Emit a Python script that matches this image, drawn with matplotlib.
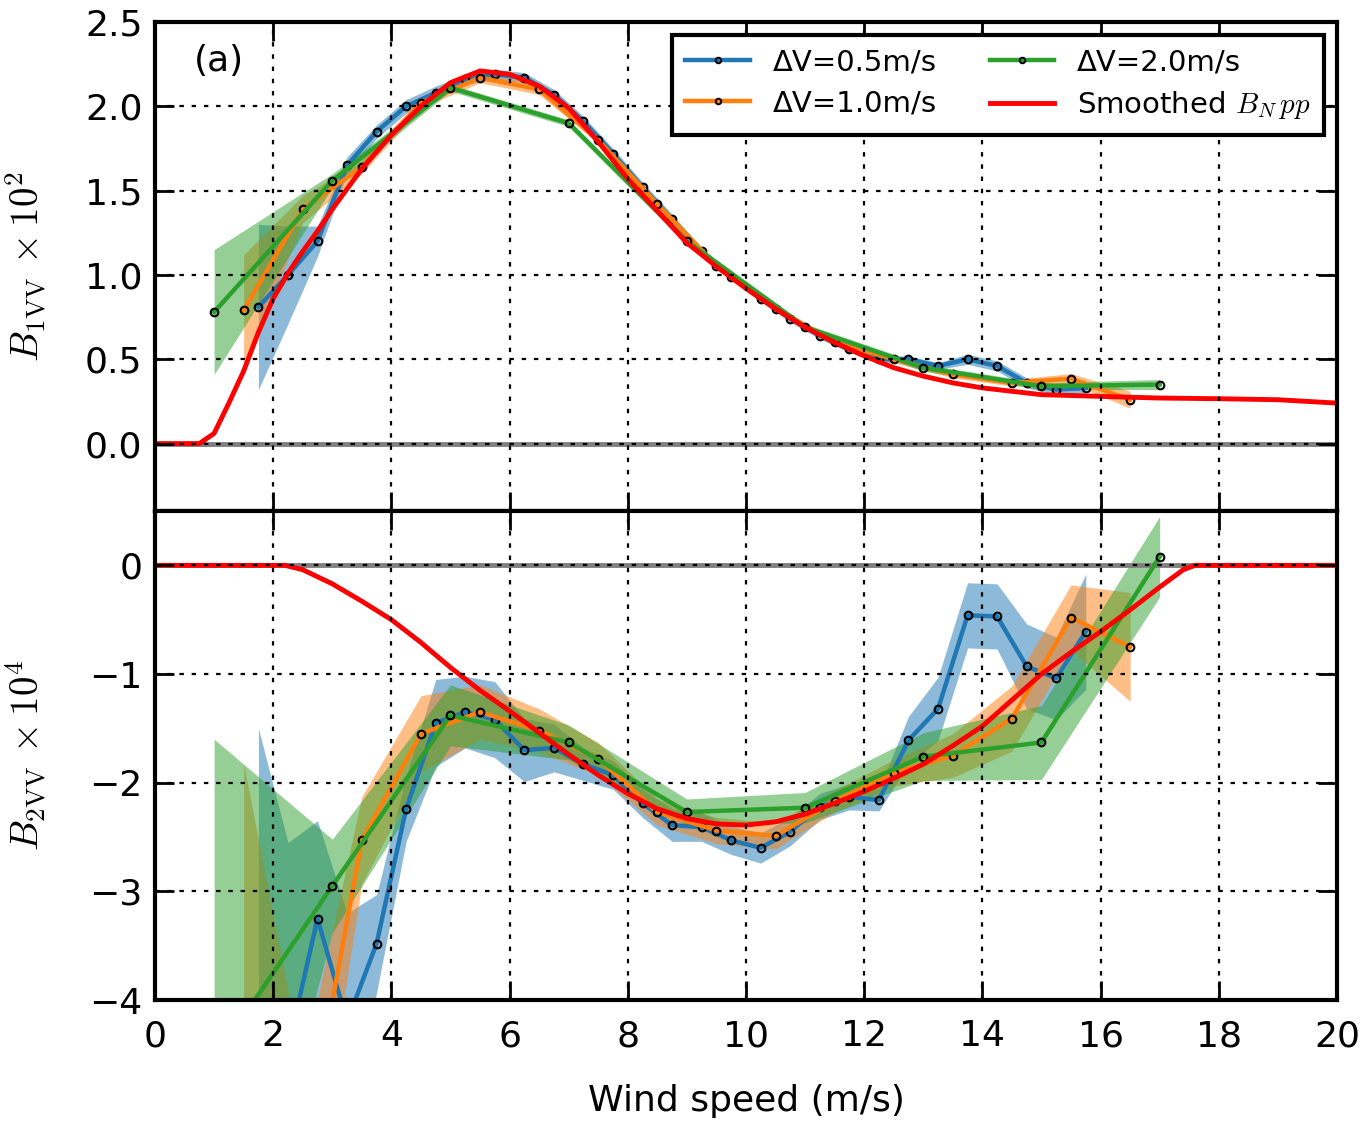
import matplotlib
matplotlib.use('Agg')
import matplotlib.pyplot as plt
from matplotlib.lines import Line2D
import numpy as np

plt.rcParams['mathtext.fontset'] = 'cm'
plt.rcParams['font.family'] = ['DejaVu Sans']

# ---------------- data ----------------
# dV = 0.5 m/s
x_05 = [1.75, 2.25, 2.75, 3.25, 3.75, 4.25, 4.75, 5.25, 5.75, 6.25, 6.75, 7.25, 7.75, 8.25,
        8.75, 9.25, 9.75, 10.25, 10.75, 11.25, 11.75, 12.25, 12.75, 13.25, 13.75, 14.25,
        14.75, 15.25, 15.75]
b1_05 = [0.81, 1.00, 1.20, 1.65, 1.85, 2.00, 2.08, 2.16, 2.19, 2.17, 2.07, 1.91, 1.72, 1.52,
         1.33, 1.14, 0.99, 0.86, 0.74, 0.64, 0.56, 0.50, 0.50, 0.46, 0.50, 0.46, 0.36, 0.32, 0.33]
b1_05_err = [0.49, 0.29, 0.09, 0.05, 0.04, 0.04, 0.04, 0.03, 0.03, 0.03, 0.03, 0.03, 0.03, 0.03,
             0.03, 0.02, 0.02, 0.02, 0.02, 0.02, 0.02, 0.02, 0.02, 0.02, 0.03, 0.03, 0.03, 0.03, 0.03]
b2_05 = [-5.5, -4.45, -3.25, -4.2, -3.48, -2.24, -1.45, -1.35, -1.42, -1.70, -1.68, -1.83, -1.93,
         -2.19, -2.39, -2.41, -2.53, -2.60, -2.45, -2.22, -2.13, -2.16, -1.61, -1.32, -0.46, -0.47,
         -0.93, -1.04, -0.61]
b2_05_err = [4.0, 1.9, 0.9, 1.0, 0.45, 0.3, 0.4, 0.33, 0.35, 0.29, 0.22, 0.15, 0.13, 0.13, 0.15,
             0.13, 0.13, 0.14, 0.13, 0.12, 0.12, 0.10, 0.22, 0.29, 0.30, 0.30, 0.39, 0.38, 0.53]

# dV = 1.0 m/s
x_10 = [1.5, 2.5, 3.5, 4.5, 5.5, 6.5, 7.5, 8.5, 9.5, 10.5, 11.5, 12.5, 13.5, 14.5, 15.5, 16.5]
b1_10 = [0.79, 1.39, 1.64, 2.02, 2.17, 2.10, 1.80, 1.42, 1.055, 0.80, 0.60, 0.50, 0.41, 0.36,
         0.385, 0.26]
b1_10_err = [0.33, 0.08, 0.04, 0.03, 0.03, 0.03, 0.02, 0.02, 0.02, 0.02, 0.02, 0.02, 0.02, 0.02,
             0.03, 0.05]
b2_10 = [-5.0, -5.5, -2.53, -1.55, -1.35, -1.52, -1.78, -2.27, -2.44, -2.49, -2.17, -1.91, -1.75,
         -1.41, -0.48, -0.75]
b2_10_err = [3.17, 0.9, 0.4, 0.35, 0.25, 0.2, 0.15, 0.12, 0.12, 0.12, 0.10, 0.12, 0.20, 0.30,
             0.30, 0.50]

# dV = 2.0 m/s
x_20 = [1, 3, 5, 7, 9, 11, 13, 15, 17]
b1_20 = [0.78, 1.56, 2.11, 1.90, 1.20, 0.69, 0.45, 0.34, 0.35]
b1_20_err = [0.37, 0.04, 0.02, 0.02, 0.02, 0.02, 0.02, 0.02, 0.03]
b2_20 = [-4.55, -2.95, -1.38, -1.63, -2.27, -2.23, -1.76, -1.63, 0.08]
b2_20_err = [2.95, 0.43, 0.28, 0.16, 0.12, 0.14, 0.22, 0.34, 0.37]

# smoothed B_N pp
xs1 = [0, 0.75, 1.0, 1.25, 1.5, 1.75, 2.0, 2.25, 2.5, 2.75, 3.0, 3.5, 4.0, 4.5, 5.0, 5.5, 6.0,
       6.5, 7.0, 7.5, 8.0, 8.5, 9.0, 9.5, 10.0, 10.5, 11.0, 11.5, 12.0, 12.5, 13.0, 13.5, 14.0,
       14.5, 15.0, 16.0, 17.0, 18.0, 19.0, 20.0]
ys1 = [0, 0, 0.06, 0.24, 0.43, 0.66, 0.86, 1.01, 1.14, 1.26, 1.39, 1.63, 1.83, 2.00, 2.14, 2.21,
       2.19, 2.12, 1.99, 1.79, 1.57, 1.38, 1.19, 1.05, 0.92, 0.80, 0.69, 0.60, 0.52, 0.45, 0.40,
       0.36, 0.33, 0.31, 0.29, 0.28, 0.27, 0.266, 0.26, 0.24]
xs2 = [0, 2.2, 2.5, 3.0, 3.5, 4.0, 4.5, 5.0, 5.5, 6.0, 6.5, 7.0, 7.5, 8.0, 8.5, 9.0, 9.5, 10.0,
       10.5, 11.0, 11.5, 12.0, 12.5, 13.0, 13.5, 14.0, 14.5, 15.0, 15.5, 16.0, 16.5, 17.0, 17.4,
       17.6, 20.0]
ys2 = [0, 0, -0.04, -0.17, -0.33, -0.50, -0.71, -0.94, -1.15, -1.34, -1.54, -1.74, -1.93, -2.10,
       -2.24, -2.33, -2.38, -2.39, -2.36, -2.29, -2.19, -2.08, -1.96, -1.83, -1.66, -1.48, -1.24,
       -1.00, -0.80, -0.61, -0.41, -0.20, -0.04, 0.0, 0.0]

labels = ['ΔV=0.5m/s', 'ΔV=1.0m/s', 'ΔV=2.0m/s', r'Smoothed $B_N\,pp$']
colors = ['#1f77b4', '#ff7f0e', '#2ca02c', '#ff0000']

x_ticks = [0, 2, 4, 6, 8, 10, 12, 14, 16, 18, 20]
y1_ticks = [0.0, 0.5, 1.0, 1.5, 2.0, 2.5]
y2_ticks = [-4, -3, -2, -1, 0]

# ---------------- figure ----------------
fig, (ax1, ax2) = plt.subplots(2, 1, sharex=True, figsize=(13.68, 11.23), dpi=100)
fig.subplots_adjust(left=0.1133, right=0.9773, top=0.9804, bottom=0.1095, hspace=0)

series_top = [(x_05, b1_05, b1_05_err), (x_10, b1_10, b1_10_err), (x_20, b1_20, b1_20_err)]
series_bot = [(x_05, b2_05, b2_05_err), (x_10, b2_10, b2_10_err), (x_20, b2_20, b2_20_err)]

for ax, series, xs, ys in [(ax1, series_top, xs1, ys1), (ax2, series_bot, xs2, ys2)]:
    ax.axhline(0, color='0.5', lw=3.5, zorder=1.2)
    for (x, y, e), c in zip(series, colors[:3]):
        x = np.array(x, float); y = np.array(y, float); e = np.array(e, float)
        ax.fill_between(x, y - e, y + e, color=c, alpha=0.5, lw=0, zorder=1)
    for (x, y, e), c in zip(series, colors[:3]):
        ax.plot(x, y, color=c, lw=3.2, marker='o', ms=5.5, mfc='none', mec='k', mew=1.5, zorder=2)
    ax.plot(xs, ys, color=colors[3], lw=3.5, zorder=2.1)
    ax.grid(True, color='k', linestyle=(0, (2, 3.5)), linewidth=1.6)
    ax.set_axisbelow(False)
    ax.tick_params(direction='in', length=14, width=2, top=True, right=True,
                   labelsize=26, pad=9)
    ax.tick_params(axis='x', pad=14)
    for s in ax.spines.values():
        s.set_linewidth(3)
    ax.set_xlim(0, 20)
    ax.set_xticks(x_ticks)

ax1.set_ylim(-0.4, 2.5)
ax1.set_yticks(y1_ticks)
ax1.set_yticklabels(['%.1f' % v for v in y1_ticks])
ax1.tick_params(labelbottom=False)
ax2.set_ylim(-4, 0.5)
ax2.set_yticks(y2_ticks)

ax1.set_ylabel(r'$B_{1\mathrm{VV}}\,\times 10^2$', fontsize=28)
ax2.set_ylabel(r'$B_{2\mathrm{VV}}\,\times 10^4$', fontsize=28)
ax1.yaxis.set_label_coords(-0.09, 0.5)
ax2.yaxis.set_label_coords(-0.09, 0.5)
ax2.set_xlabel('Wind speed (m/s)', fontsize=26, labelpad=22)

ax1.text(0.033, 0.955, '(a)', transform=ax1.transAxes, fontsize=26, va='top', ha='left')

handles = [Line2D([], [], color=colors[0], lw=3.2, marker='o', ms=4, mfc='none', mec='k', mew=1.4),
           Line2D([], [], color=colors[1], lw=3.2, marker='o', ms=4, mfc='none', mec='k', mew=1.4),
           Line2D([], [], color=colors[2], lw=3.2, marker='o', ms=4, mfc='none', mec='k', mew=1.4),
           Line2D([], [], color=colors[3], lw=3.5)]
leg = ax1.legend(handles, labels, loc='upper right', ncol=2, fontsize=21, frameon=True,
                 fancybox=False, edgecolor='k', framealpha=1, borderaxespad=0.45,
                 handlelength=2.2, columnspacing=1.8, labelspacing=0.45, borderpad=0.45)
leg.get_frame().set_linewidth(3)

fig.savefig('out.png', dpi=100)
